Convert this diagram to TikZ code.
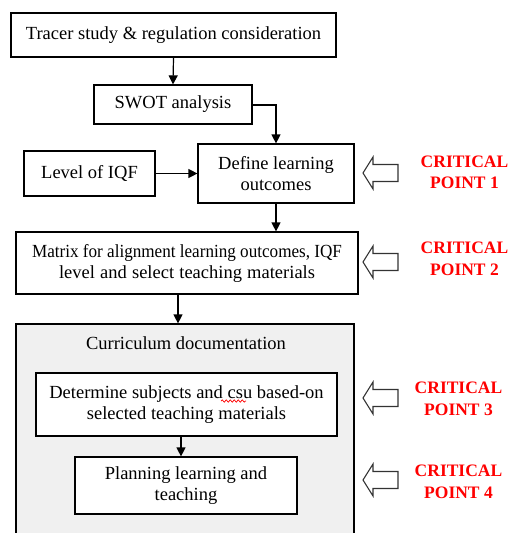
\documentclass[tikz,border=0pt]{standalone}
\usepackage{fontspec}
\setmainfont{Liberation Serif}
\usetikzlibrary{arrows.meta,decorations.pathmorphing}
\definecolor{currgray}{RGB}{240,240,240}
\definecolor{cpred}{RGB}{255,0,0}
\begin{document}
\begin{tikzpicture}[x=1pt,y=-1pt,
  box/.style={draw,line width=1.2pt,fill=white,inner sep=0pt,align=center,
    font=\fontsize{18.5}{21}\selectfont},
  conn/.style={line width=1.2pt,-{Triangle[length=9pt,width=9pt]}},
  cparrow/.style={draw=black!80,line width=1.1pt,fill=white},
  cptext/.style={text=cpred,align=center,font=\bfseries\fontsize{17.5}{21.5}\selectfont}]
\useasboundingbox (0,0) rectangle (517,533);
\fill[white] (0,0) rectangle (517,533);
\begin{scope}
\clip (0,0) rectangle (517,533);
\node[draw,line width=1.2pt,fill=currgray,minimum width=338pt,minimum height=226pt,inner sep=0pt] (curr) at (185,437) {};
\end{scope}
\node[box,minimum width=325pt,minimum height=44pt] (tracer) at (173.5,35) {Tracer study \& regulation consideration};
\node[box,minimum width=158pt,minimum height=39pt] (swot) at (173,104.5) {SWOT analysis};
\node[box,minimum width=131pt,minimum height=45pt] (iqf) at (89.5,173.5) {Level of IQF};
\node[box,minimum width=156pt,minimum height=59pt] (define) at (276,173.5) {Define learning\\outcomes};
\node[box,minimum width=342pt,minimum height=62pt] (matrix) at (187,263) {\scalebox{0.925}[1]{Matrix for alignment learning outcomes, IQF}\\\makebox[256pt][s]{level and select teaching materials}};
\node[font=\fontsize{18.5}{21}\selectfont] (currtitle) at (186,343) {Curriculum documentation};
\node[box,minimum width=301pt,minimum height=63pt] (determine) at (186.5,404.5) {Determine subjects and csu based-on\\selected teaching materials};
\node[box,minimum width=222pt,minimum height=57pt] (planning) at (186,485.5) {Planning learning and\\teaching};
% connectors
\draw[conn] (tracer.south) -- (swot.north);
\draw[conn] (swot.east |- 0,105) -| (define.north);
\draw[conn] (iqf.east) -- (iqf.east -| define.west);
\draw[conn] (define.south) -- (define.south |- matrix.north);
\coordinate (msrc) at (matrix.south -| 178,0);
\draw[conn] (msrc) -- (msrc |- curr.north);
\coordinate (dsrc) at (determine.south -| 181,0);
\draw[conn] (dsrc) -- (dsrc |- planning.north);
% spell-check underline
\draw[cpred,line width=0.7pt,decorate,decoration={snake,amplitude=1.2pt,segment length=4pt}] (221,401) -- (246,401);
% critical point arrows
\foreach \yc in {173,262,398,480}{
  \draw[cparrow] (363,\yc) -- (373,\yc-16) -- (373,\yc-8.5) -- (398,\yc-8.5) -- (398,\yc+8.5) -- (373,\yc+8.5) -- (373,\yc+16) -- cycle;
}
\node[cptext] (cp1) at (464.5,172.5) {CRITICAL\\POINT 1};
\node[cptext] (cp2) at (464.5,259) {CRITICAL\\POINT 2};
\node[cptext] (cp3) at (458.5,399) {CRITICAL\\POINT 3};
\node[cptext] (cp4) at (458.5,482) {CRITICAL\\POINT 4};
\end{tikzpicture}
\end{document}
